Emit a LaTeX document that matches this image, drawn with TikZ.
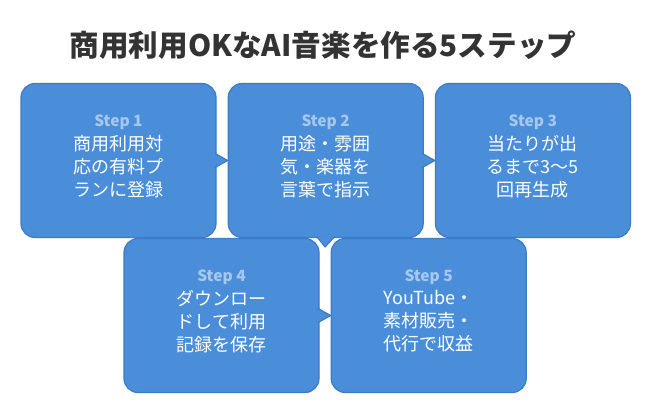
\documentclass[tikz,border=0pt]{standalone}
\usepackage{fontspec}
\newfontfamily\jp{Noto Sans CJK JP}
\usetikzlibrary{positioning,calc}
\definecolor{boxfill}{HTML}{4A8ED9}
\definecolor{boxline}{HTML}{3C7BC6}
\definecolor{steptxt}{HTML}{A6C7EE}
\definecolor{titletxt}{HTML}{333333}

\begin{document}
\begin{tikzpicture}[x=1pt,y=-1pt,node distance=11pt,
  stepbox/.style={draw=boxline,fill=boxfill,line width=1.2pt,rounded corners=14pt,minimum width=195pt,minimum height=154pt,inner sep=0pt},
  steplabel/.style={text=steptxt,font=\jp\bfseries\fontsize{15.5}{17}\selectfont},
  steptext/.style={text=white,align=center,font=\jp\fontsize{18}{23}\selectfont},
  pointer/.style={fill=boxfill,draw=boxline,line width=1.2pt}]
\useasboundingbox (0,0) rectangle (650,415);
\node[font=\jp\bfseries\fontsize{29.6}{34}\selectfont,text=titletxt] (title) at (323,45) {商用利用OKなAI音楽を作る5ステップ};

\node[stepbox] (s_1) at (118.5,160.5) {};
\node[stepbox] (s_2) [right=of s_1] {};
\node[stepbox] (s_3) [right=of s_2] {};
\node[stepbox] (s_4) at (221.5,315.5) {};
\node[stepbox] (s_5) [right=of s_4] {};

% pointers between the boxes
\coordinate (d_2) at ($(s_4.north east)!0.5!(s_5.north west)+(0,9)$);
\filldraw[pointer] ($(s_1.east)+(-1.5,-7)$) -- (s_2.west) -- ($(s_1.east)+(-1.5,7)$);
\filldraw[pointer] ($(s_2.east)+(-1.5,-7)$) -- (s_3.west) -- ($(s_2.east)+(-1.5,7)$);
\filldraw[pointer] ($(s_2.south)+(-9,-1.5)$) -- (d_2) -- ($(s_2.south)+(9,-1.5)$);
\filldraw[pointer] ($(s_4.east)+(-1.5,-7)$) -- (s_5.west) -- ($(s_4.east)+(-1.5,7)$);

\node[steplabel] (l_1) at ($(s_1)+(0,-38)$) {Step 1};
\node[steptext] (t_1) at ($(s_1)+(0,6)$) {商用利用対\\応の有料プ\\ランに登録};
\node[steplabel] (l_2) at ($(s_2)+(0,-38)$) {Step 2};
\node[steptext] (t_2) at ($(s_2)+(0,6)$) {用途・雰囲\\気・楽器を\\言葉で指示};
\node[steplabel] (l_3) at ($(s_3)+(0,-38)$) {Step 3};
\node[steptext] (t_3) at ($(s_3)+(0,6)$) {当たりが出\\るまで3〜5\\回再生成};
\node[steplabel] (l_4) at ($(s_4)+(0,-38)$) {Step 4};
\node[steptext] (t_4) at ($(s_4)+(0,6)$) {ダウンロー\\ドして利用\\記録を保存};
\node[steplabel] (l_5) at ($(s_5)+(0,-38)$) {Step 5};
\node[steptext] (t_5) at ($(s_5)+(0,6)$) {YouTube・\\素材販売・\\代行で収益};
\end{tikzpicture}
\end{document}
